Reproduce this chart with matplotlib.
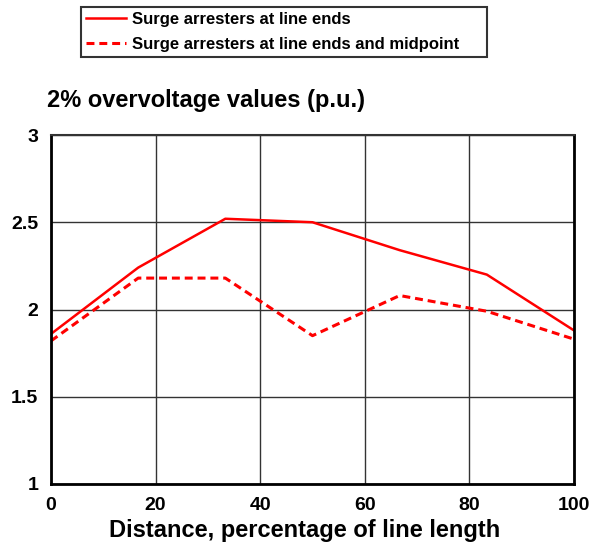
import matplotlib
matplotlib.use("Agg")
import matplotlib.pyplot as plt
from matplotlib.lines import Line2D

plt.rcParams['font.family'] = ['Liberation Sans', 'DejaVu Sans']
plt.rcParams['font.weight'] = 'bold'

distance = [0, 16.67, 33.33, 50, 66.67, 83.33, 100]
ends = [1.86, 2.24, 2.52, 2.50, 2.34, 2.20, 1.88]
ends_mid = [1.82, 2.18, 2.18, 1.85, 2.08, 1.99, 1.83]
xticks = [0, 20, 40, 60, 80, 100]
yticks = [1, 1.5, 2, 2.5, 3]
ytick_labels = ['1', '1.5', '2', '2.5', '3']
labels = ['Surge arresters at line ends', 'Surge arresters at line ends and midpoint']

DASH = (0, (2.6, 1.6))

fig = plt.figure(figsize=(6.02, 5.47), dpi=100)
ax = fig.add_axes([51/602, 63/547, 523/602, 349/547])

ax.plot(distance, ends, color='#ff0000', lw=1.8)
ax.plot(distance, ends_mid, color='#ff0000', lw=2.2, linestyle=DASH)

ax.set_xlim(0, 100)
ax.set_ylim(1, 3)
ax.set_xticks(xticks)
ax.set_yticks(yticks)
ax.set_yticklabels(ytick_labels)
ax.tick_params(axis='x', length=0, labelsize=14, pad=9)
ax.tick_params(axis='y', length=0, labelsize=14, pad=9)
for lab in ax.get_xticklabels() + ax.get_yticklabels():
    lab.set_fontweight('bold')
ax.grid(True, color='#333333', lw=1)
for s in ['left', 'bottom', 'right']:
    ax.spines[s].set_linewidth(2)
    ax.spines[s].set_color('black')
ax.spines['top'].set_linewidth(1.5)
ax.spines['top'].set_color('#333333')

fig.text(305/602, 1 - 531/547, 'Distance, percentage of line length', fontsize=17,
         fontweight='bold', ha='center', va='center')
fig.text(47/602, 1 - 101/547, '2% overvoltage values (p.u.)', fontsize=17, fontweight='bold',
         va='center', ha='left')

handles = [Line2D([], [], color='#ff0000', lw=1.8),
           Line2D([], [], color='#ff0000', lw=2.2, linestyle=DASH)]
leg = fig.legend(handles, labels, loc='upper left',
                 bbox_to_anchor=(81/602, 1 - 58/547, 406/602, 51/547), mode='expand',
                 frameon=True, fancybox=False, edgecolor='black',
                 prop={'weight': 'bold', 'size': 12}, handlelength=2.4, borderpad=0.3,
                 labelspacing=0.6, handletextpad=0.35, borderaxespad=0)
leg.get_frame().set_linewidth(1.5)

fig.savefig('out.png', dpi=100)
